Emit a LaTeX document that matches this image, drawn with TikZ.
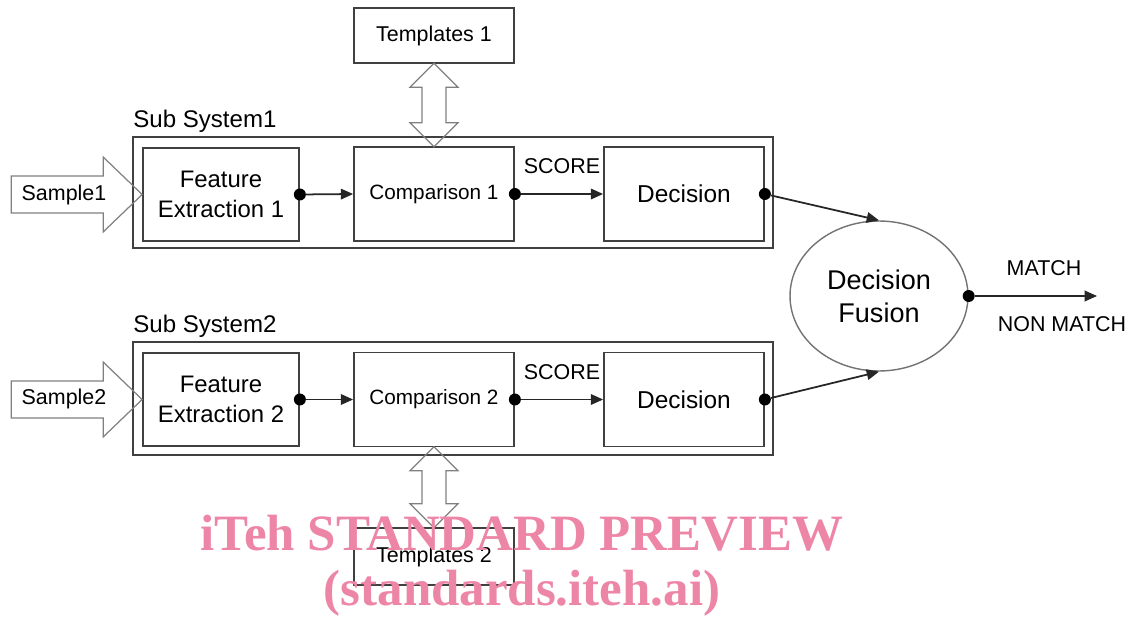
\documentclass[tikz,border=0pt]{standalone}
\usepackage{fontspec}
\setmainfont{Liberation Sans}
\newfontfamily\wmfont{Liberation Serif}
\usetikzlibrary{arrows.meta,shapes.geometric,shapes.arrows,calc}
\definecolor{wmpink}{RGB}{237,134,166}

\begin{document}
\begin{tikzpicture}[x=0.02cm, y=-0.02cm,
  >={Triangle[length=7pt,width=6pt]},
  box/.style={draw=black!75, line width=1pt, fill=white, minimum width=3.2cm,
              minimum height=1.88cm, align=center, inner sep=2pt},
  frame/.style={draw=black!75, line width=1pt},
  dot/.style={circle, fill=black, inner sep=0pt, minimum size=0.24cm},
  arr/.style={->, line width=1pt, draw=black!85},
  hollow/.style={draw=black!50, line width=0.7pt},
  dblarr/.style={double arrow, draw=black!50, line width=0.7pt, rotate=90,
                 inner sep=6.5pt, double arrow head extend=6.8pt},
  lbl/.style={font=\fontsize{12.2}{14}\selectfont},
]
\useasboundingbox (0,0) rectangle (1133,618);

% Sub system frames
\node[frame, minimum width=12.8cm, minimum height=2.22cm] (sys1) at (453,192.5) {};
\node[frame, minimum width=12.8cm, minimum height=2.26cm] (sys2) at (453,398.5) {};
\node[anchor=base west, inner sep=0pt, font=\fontsize{13.7}{16}\selectfont] (sub1) at (133,128) {Sub System1};
\node[anchor=base west, inner sep=0pt, font=\fontsize{13.7}{16}\selectfont] (sub2) at (133,333) {Sub System2};

% Blocks, sub system 1
\node[box, minimum width=3.12cm, minimum height=1.86cm, font=\fontsize{13.6}{17}\selectfont] (fe1) at (221,194.5) {Feature\\Extraction 1};
\node[box, font=\fontsize{11.8}{14}\selectfont] (cmp1) at (434,194) {Comparison 1};
\node[box, font=\fontsize{13.9}{16}\selectfont] (dec1) at (684,194) {Decision};

% Blocks, sub system 2
\node[box, minimum width=3.12cm, minimum height=1.86cm, font=\fontsize{13.6}{17}\selectfont] (fe2) at (221,399.5) {Feature\\Extraction 2};
\node[box, font=\fontsize{11.8}{14}\selectfont] (cmp2) at (434,399.5) {Comparison 2};
\node[box, font=\fontsize{13.9}{16}\selectfont] (dec2) at (684,399.5) {Decision};

% Templates
\node[box, minimum height=1.1cm, font=\fontsize{12.2}{14}\selectfont] (tpl1) at (434,35.5) {Templates 1};
\node[box, minimum height=1.14cm, font=\fontsize{12.2}{14}\selectfont] (tpl2) at (434,556.5) {Templates 2};
\node[dblarr, minimum height=47.6pt] (link1) at ($(tpl1.south)!0.5!(cmp1.north)$) {};
\node[dblarr, minimum height=46.2pt] (link2) at ($(cmp2.south)!0.5!(tpl2.north)$) {};

% Sample inputs
\draw[hollow] (fe1.west) -- ++(-39,-37.5) -- ++(0,19) -- ++(-92,0) -- ++(0,37)
  -- ++(92,0) -- ++(0,19) -- cycle;
\draw[hollow] (fe2.west) -- ++(-39,-37.5) -- ++(0,19) -- ++(-92,0) -- ++(0,37)
  -- ++(92,0) -- ++(0,19) -- cycle;
\node[lbl] (smp1) at (64,195) {Sample1};
\node[lbl] (smp2) at (64,399) {Sample2};

% Decision fusion
\node[ellipse, draw=black!55, line width=0.8pt, minimum width=3.56cm, minimum height=3cm,
      align=center, font=\fontsize{15.4}{18.7}\selectfont] (fus) at (879,296) {Decision\\Fusion};

% Output dots
\node[dot] (d1) at (fe1.east) {};
\node[dot] (d2) at (cmp1.east) {};
\node[dot] (d3) at (dec1.east) {};
\node[dot] (d4) at (fe2.east) {};
\node[dot] (d5) at (cmp2.east) {};
\node[dot] (d6) at (dec2.east) {};
\node[dot] (d7) at (fus.east) {};
\coordinate (out) at (1097,296);

% Connections
\draw[arr] (d1) -- (cmp1.west);
\draw[arr] (d2) -- (dec1.west);
\draw[arr] (d4) -- (cmp2.west);
\draw[arr] (d5) -- (dec2.west);
\draw[arr] (d3) -- (fus.north);
\draw[arr] (d6) -- (fus.south);
\draw[arr] (d7) -- (out);

% Labels
\node[lbl] (sc1) at (562,166) {SCORE};
\node[lbl] (sc2) at (562,372) {SCORE};
\node[lbl] (match) at (1044,268) {MATCH};
\node[lbl] (nomatch) at (1062,324) {NON MATCH};

% Watermark
\node[text=wmpink, align=center, font=\wmfont\bfseries\fontsize{29}{31.5}\selectfont] (wm) at (522,566)
  {iTeh STANDARD PREVIEW\\(standards.iteh.ai)};

\end{tikzpicture}
\end{document}
